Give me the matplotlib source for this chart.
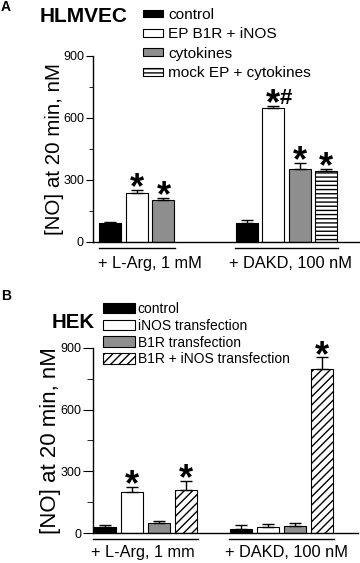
import numpy as np
import matplotlib
matplotlib.use('Agg')
import matplotlib.pyplot as plt

plt.rcParams['font.family'] = ['Liberation Sans', 'DejaVu Sans']
plt.rcParams['hatch.linewidth'] = 1.0

# Panel A - HLMVEC
a_series = ['control', 'EP B1R + iNOS', 'cytokines', 'mock EP + cytokines']
a_groups = ['+ L-Arg, 1 mM', '+ DAKD, 100 nM']
a_larg = [90, 237, 202]
a_larg_err = [6, 13, 12]
a_dakd = [91, 650, 355, 345]
a_dakd_err = [15, 8, 27, 8]
a_larg_marks = ['', '*', '*']
a_dakd_marks = ['', '*#', '*', '*']

# Panel B - HEK
b_series = ['control', 'iNOS transfection', 'B1R transfection', 'B1R + iNOS transfection']
b_groups = ['+ L-Arg, 1 mm', '+ DAKD, 100 nM']
b_larg = [29, 199, 48, 208]
b_larg_err = [10, 24, 14, 44]
b_dakd = [22, 32, 37, 798]
b_dakd_err = [16, 12, 13, 55]
b_larg_marks = ['', '*', '', '*']
b_dakd_marks = ['', '', '', '*']

faces = ['black', 'white', '#8e8e8e', 'white']
hatches = [None, None, None, '----']
hatches_b = [None, None, None, '////']

W, H = 360, 563
fig = plt.figure(figsize=(W / 100, H / 100), dpi=100)


def panel(rect, larg, larg_err, dakd, dakd_err, larg_marks, dakd_marks,
          series, groups, htch, offset, width, xlim, tick_pos, lbl_x, lbl_size, pad, tlen):
    ax = fig.add_axes(rect)
    for i, name in enumerate(series):
        xs, ys, es = [], [], []
        if i < len(larg):
            xs.append(i); ys.append(larg[i]); es.append(larg_err[i])
        xs.append(offset + i); ys.append(dakd[i]); es.append(dakd_err[i])
        ax.bar(xs, ys, width, color=faces[i], edgecolor='black', linewidth=0.8,
               hatch=htch[i], label=name,
               yerr=[np.zeros(len(es)), es], capsize=4,
               error_kw=dict(elinewidth=1, capthick=1, ecolor='black'))
    # significance marks
    for vals, errs, marks, off in [(larg, larg_err, larg_marks, 0), (dakd, dakd_err, dakd_marks, offset)]:
        for i, m in enumerate(marks):
            if not m:
                continue
            top = vals[i] + errs[i]
            ax.annotate('*', (off + i, top), xytext=(0, -6), textcoords='offset points',
                        ha='center', va='baseline', fontsize=26, fontweight='bold')
            if '#' in m:
                ax.annotate('#', (off + i, top), xytext=(4.5, 1.5), textcoords='offset points',
                            ha='left', va='baseline', fontsize=16, fontweight='bold')
    ax.set_xlim(*xlim)
    ax.set_ylim(0, 900)
    ax.set_yticks([0, 300, 600, 900])
    ax.set_yticks([150, 450, 750], minor=True)
    ax.tick_params(axis='y', which='major', length=tlen, labelsize=9, direction='out', pad=1.5)
    ax.tick_params(axis='y', which='minor', length=tlen * 0.6, direction='out')
    ax.set_xticks(tick_pos)
    ax.set_xticklabels(groups, fontsize=11.8)
    ax.tick_params(axis='x', length=0, pad=pad)
    for s in ['top', 'right']:
        ax.spines[s].set_visible(False)
    ax.spines['bottom'].set_linewidth(1.0)
    ax.spines['left'].set_linewidth(1.0)
    ax.set_ylabel('[NO] at 20 min, nM', fontsize=lbl_size)
    ax.yaxis.set_label_coords(lbl_x, 0.5)
    # group underlines
    tr = ax.get_xaxis_transform()
    n_l = len(larg)
    ax.plot([-0.45, n_l - 1 + 0.45], [-0.03, -0.03], color='black', lw=1, transform=tr, clip_on=False)
    ax.plot([offset - 0.45, offset + len(dakd) - 1 + 0.45], [-0.03, -0.03], color='black', lw=1,
            transform=tr, clip_on=False)
    return ax


axA = panel([93 / W, (H - 242) / H, (359 - 93) / W, 186 / H],
            a_larg, a_larg_err, a_dakd, a_dakd_err, a_larg_marks, a_dakd_marks,
            a_series, a_groups, hatches, 5.15, 0.83, (-0.66, 9.38), [1.49, 6.79],
            -0.108, 14.8, 10, 5)
axB = panel([93 / W, (H - 533.3) / H, (358 - 93) / W, 185.6 / H],
            b_larg, b_larg_err, b_dakd, b_dakd_err, b_larg_marks, b_dakd_marks,
            b_series, b_groups, hatches_b, 5.04, 0.815, (-0.44, 9.37), [1.39, 6.72],
            -0.12, 16, 8.5, 7)

axA.legend(loc='upper left', bbox_to_anchor=(143 / W, 1 - 8 / H), bbox_transform=fig.transFigure,
           frameon=False, fontsize=11.1, handlelength=1.3, handleheight=0.4,
           handletextpad=0.32, labelspacing=0.35, borderpad=0, borderaxespad=0)
axB.legend(loc='upper left', bbox_to_anchor=(103 / W, 1 - 302 / H), bbox_transform=fig.transFigure,
           frameon=False, fontsize=10, handlelength=2.3, handleheight=0.8,
           handletextpad=0.2, labelspacing=0.2, borderpad=0, borderaxespad=0)

fig.text(40 / W, 1 - 16.5 / H, 'HLMVEC', fontsize=15, fontweight='bold', va='center', ha='left')
fig.text(52 / W, 1 - 323 / H, 'HEK', fontsize=14.7, fontweight='bold', va='center', ha='left')
fig.text(1 / W, 1 - 7 / H, 'A', fontsize=10, fontweight='bold', va='center', ha='left')
fig.text(1 / W, 1 - 296 / H, 'B', fontsize=10, fontweight='bold', va='center', ha='left')

fig.savefig('out.png', dpi=100)
